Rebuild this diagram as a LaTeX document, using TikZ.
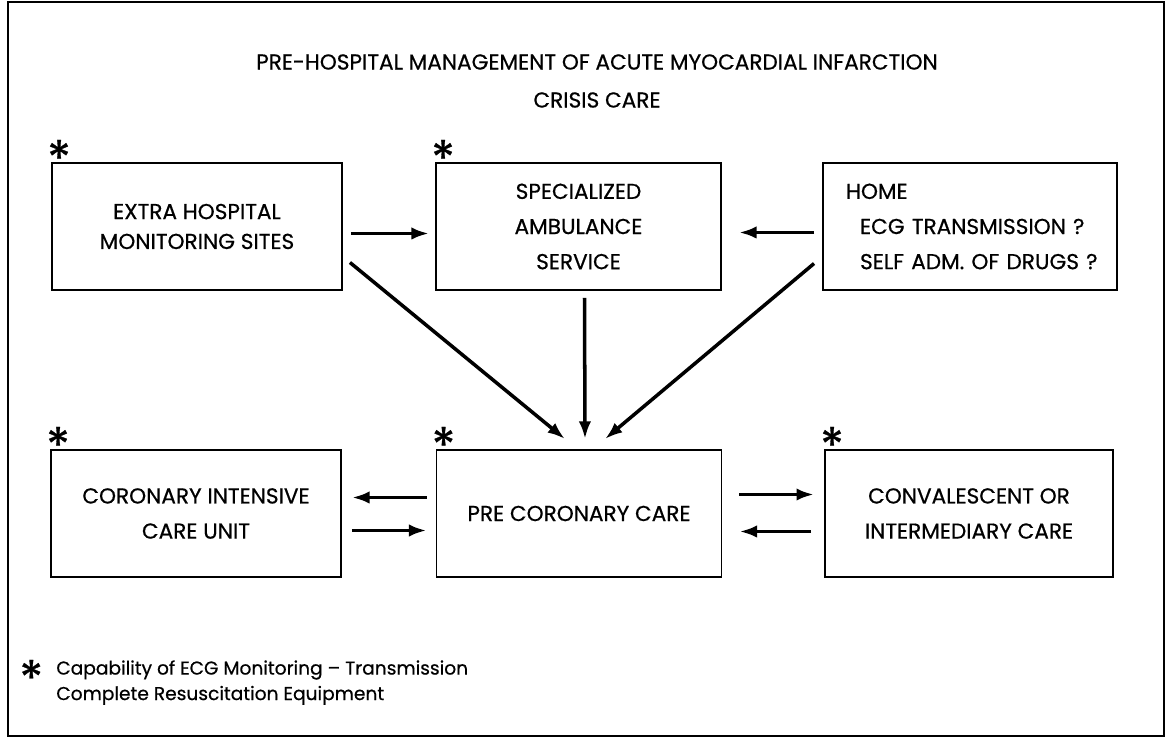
\documentclass[tikz,border=0pt]{standalone}
\usepackage{fontspec}
\setmainfont{Poppins}[FakeBold=0.6]
\usetikzlibrary{positioning, arrows.meta}

\begin{document}
\begin{tikzpicture}[
        x=0.02cm, y=-0.02cm, % one unit = one pixel of the original
        box/.style={
            draw, % border
            line width=1.1pt,
            minimum width=5.8cm,
            minimum height=2.54cm,
            align=center,
            inner sep=0,
            font=\fontsize{12.3}{20}\selectfont
        },
        flow/.style={-{Latex[length=10pt,width=7pt]}, line width=2pt},
        star/.style={font=\fontsize{28}{28}\selectfont, inner sep=0}
    ]

    % frame and page size
    \useasboundingbox (0,0) rectangle (1167,742);
    \draw[line width=1pt] (8,2) rectangle (1164,736);

    % title
    \node[font=\fontsize{12.3}{15}\selectfont] (title) at (597,62) {PRE-HOSPITAL MANAGEMENT OF ACUTE MYOCARDIAL INFARCTION};
    \node[font=\fontsize{12.3}{15}\selectfont] (sub) at (597,100) {CRISIS CARE};

    % upper row
    \node[box] (extra) at (197,226.5) {EXTRA HOSPITAL\\[-3pt]MONITORING SITES};
    \node[box, minimum width=5.7cm] (amb) at (578.5,226.5) {SPECIALIZED\\AMBULANCE\\SERVICE};
    \node[box, minimum width=5.88cm, align=left, text width=4.96cm] (home) at (970,226.5)
        {\mbox{HOME}\\\mbox{\hspace{8pt}ECG TRANSMISSION ?}\\\mbox{\hspace{8pt}SELF ADM.\ OF DRUGS ?}};

    % lower row
    \node[box] (cicu) at (196,513.5) {CORONARY INTENSIVE\\CARE UNIT};
    \node[box, minimum width=5.7cm] (pcc) at (579,513.5) {PRE CORONARY CARE};
    \node[box, minimum width=5.76cm] (conv) at (969,513.5) {CONVALESCENT OR\\INTERMEDIARY CARE};

    % asterisks
    \foreach \n in {extra, amb, cicu, pcc, conv} {
        \node[star] (s\n) at ([shift={(8,-4)}]\n.north west) {*};
    }

    % connectors
    \draw[flow] ([shift={(8,7)}]extra.east) -- ([shift={(-6,7)}]amb.west);
    \draw[flow] ([shift={(-8,6)}]home.west) -- ([shift={(17,6)}]amb.east);
    \draw[flow] ([shift={(7,36)}]extra.east) -- ([shift={(-14,-10)}]pcc.north);
    \draw[flow] ([shift={(6,7)}]amb.south) -- ([shift={(6,-10)}]pcc.north);
    \draw[flow] ([shift={(-8,37)}]home.west) -- ([shift={(26,-10)}]pcc.north);

    \draw[flow] ([shift={(-9,-16)}]pcc.west) -- ([shift={(10,-16)}]cicu.east);
    \draw[flow] ([shift={(10,17)}]cicu.east) -- ([shift={(-9,17)}]pcc.west);
    \draw[flow] ([shift={(17,-19)}]pcc.east) -- ([shift={(-10,-19)}]conv.west);
    \draw[flow] ([shift={(-13,18)}]conv.west) -- ([shift={(17,18)}]pcc.east);

    % footnote
    \node[star, anchor=west] (fstar) at (19,678) {*};
    \node[anchor=north west, align=left, font=\fontsize{10.6}{14.5}\selectfont, inner sep=0] (note) at (56,660)
        {Capability of ECG Monitoring -- Transmission\\Complete Resuscitation Equipment};
\end{tikzpicture}
\end{document}
